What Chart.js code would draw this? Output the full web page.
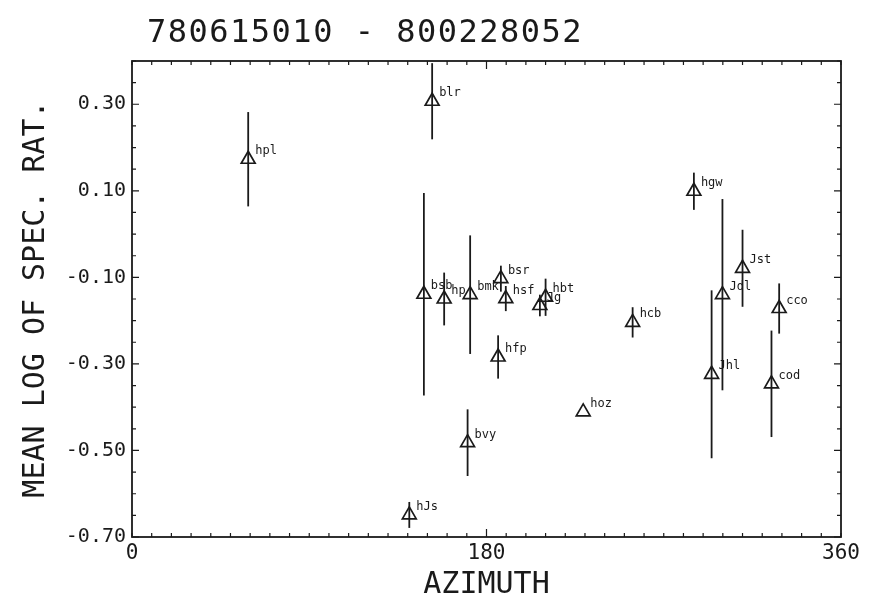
<!DOCTYPE html>
<html>
<head>
<meta charset="utf-8">
<script src="https://cdn.jsdelivr.net/npm/chart.js@4.4.1/dist/chart.umd.min.js"></script>
<style>
  html, body { margin: 0; padding: 0; background: #fff; }
  #wrap { width: 871px; height: 608px; position: relative; }
</style>
</head>
<body>
<div id="wrap"><canvas id="myChart"></canvas></div>
<script>
const titleText = '780615010 - 800228052';
const stations = ['hpl', 'hJs', 'bsb', 'blr', 'hp', 'bvy', 'bmk', 'hfp', 'bsr', 'hsf',
                  'Jg', 'hbt', 'hoz', 'hcb', 'hgw', 'Jhl', 'Jdl', 'Jst', 'cod', 'cco'];
const azimuth = [59.0, 140.8, 148.2, 152.4, 158.5, 170.4, 171.7, 185.9, 187.3, 189.8,
                 207.1, 210.0, 229.1, 254.2, 285.3, 294.3, 299.8, 310.0, 324.7, 328.6];
const meanLog = [0.173, -0.649, -0.139, 0.307, -0.150, -0.482, -0.140, -0.284, -0.103, -0.149,
                 -0.165, -0.146, -0.411, -0.204, 0.099, -0.324, -0.140, -0.079, -0.346, -0.172];
const errBar = [0.109, 0.030, 0.234, 0.088, 0.061, 0.077, 0.137, 0.050, 0.030, 0.029,
                0.025, 0.043, 0.0, 0.035, 0.043, 0.194, 0.221, 0.089, 0.123, 0.058];
const xLabels = [0, 180, 360];
const yLabels = [-0.70, -0.50, -0.30, -0.10, 0.10, 0.30];

const ink = '#1a1a1a';
const mono = 'DejaVu Sans Mono';

const points = azimuth.map((a, i) => ({ x: a, y: meanLog[i] }));

const isXLabel = v => xLabels.some(l => Math.abs(l - v) < 1e-6);
const isYLabel = v => yLabels.some(l => Math.abs(l - v) < 1e-6);

// title, error bars, station names, inward ticks
const plotExtras = {
    id: 'plotExtras',
    beforeDatasetsDraw(chart) {
        const { ctx, chartArea: a, scales: { x, y } } = chart;
        ctx.save();
        ctx.beginPath();
        ctx.rect(a.left, a.top, a.right - a.left, a.bottom - a.top);
        ctx.clip();
        ctx.strokeStyle = ink;
        ctx.lineWidth = 1.8;
        azimuth.forEach((az, i) => {
            if (!errBar[i]) return;
            const px = x.getPixelForValue(az);
            ctx.beginPath();
            ctx.moveTo(px, y.getPixelForValue(meanLog[i] + errBar[i]));
            ctx.lineTo(px, y.getPixelForValue(meanLog[i] - errBar[i]));
            ctx.stroke();
        });
        ctx.restore();
    },
    afterDraw(chart) {
        const { ctx, chartArea: a, scales: { x, y } } = chart;
        ctx.save();

        // title
        ctx.fillStyle = ink;
        ctx.font = '32px ' + mono;
        ctx.textAlign = 'left';
        ctx.textBaseline = 'middle';
        ctx.letterSpacing = '1.5px';
        ctx.fillText(titleText, 147, 34);
        ctx.letterSpacing = '0px';

        // station names
        ctx.font = '12px ' + mono;
        stations.forEach((s, i) => {
            const px = x.getPixelForValue(azimuth[i]);
            const py = y.getPixelForValue(meanLog[i]);
            ctx.fillText(s, px + 7, py - 8);
        });

        // frame
        ctx.strokeStyle = ink;
        ctx.lineWidth = 1.8;
        ctx.strokeRect(a.left, a.top, a.right - a.left, a.bottom - a.top);

        // inward ticks
        ctx.lineWidth = 1.2;
        ctx.beginPath();
        for (let v = 0; v <= 360; v += 10) {
            const px = x.getPixelForValue(v);
            const len = v === 180 ? 8 : 4;
            ctx.moveTo(px, a.bottom); ctx.lineTo(px, a.bottom - len);
            ctx.moveTo(px, a.top); ctx.lineTo(px, a.top + len);
        }
        for (let k = -70; k <= 40; k += 5) {
            const v = k / 100;
            const py = y.getPixelForValue(v);
            const len = isYLabel(v) ? 7 : 4;
            ctx.moveTo(a.left, py); ctx.lineTo(a.left + len, py);
            ctx.moveTo(a.right, py); ctx.lineTo(a.right - len, py);
        }
        ctx.stroke();
        ctx.restore();
    }
};

new Chart(document.getElementById('myChart'), {
    type: 'scatter',
    data: {
        datasets: [{
            data: points,
            pointStyle: 'triangle',
            pointRadius: 8,
            pointHoverRadius: 8,
            pointBorderWidth: 1.7,
            borderColor: ink,
            backgroundColor: 'rgba(0,0,0,0)'
        }]
    },
    options: {
        responsive: true,
        maintainAspectRatio: false,
        animation: false,
        events: [],
        layout: { padding: { top: 61, right: 30, left: 0, bottom: 0 } },
        plugins: {
            legend: { display: false },
            tooltip: { enabled: false }
        },
        scales: {
            x: {
                type: 'linear',
                min: 0,
                max: 360,
                grid: { display: false, drawTicks: false },
                border: { display: false },
                ticks: {
                    stepSize: 10,
                    autoSkip: false,
                    maxRotation: 0,
                    padding: 4,
                    color: ink,
                    font: { family: mono, size: 21 },
                    callback: v => isXLabel(v) ? String(v) : ''
                },
                title: {
                    display: true,
                    text: 'AZIMUTH',
                    color: ink,
                    font: { family: mono, size: 30 },
                    padding: { top: 0, bottom: 5 }
                },
                afterFit: s => { s.height = 71; }
            },
            y: {
                type: 'linear',
                min: -0.70,
                max: 0.40,
                grid: { display: false, drawTicks: false },
                border: { display: false },
                ticks: {
                    stepSize: 0.05,
                    autoSkip: false,
                    padding: 6,
                    color: ink,
                    font: { family: mono, size: 20 },
                    callback: v => isYLabel(v) ? v.toFixed(2) : ''
                },
                title: {
                    display: true,
                    text: 'MEAN LOG OF SPEC. RAT.',
                    color: ink,
                    font: { family: mono, size: 30 },
                    padding: { top: 18, bottom: 0 }
                },
                afterFit: s => { s.width = 132; }
            }
        }
    },
    plugins: [plotExtras]
});
</script>
</body>
</html>
